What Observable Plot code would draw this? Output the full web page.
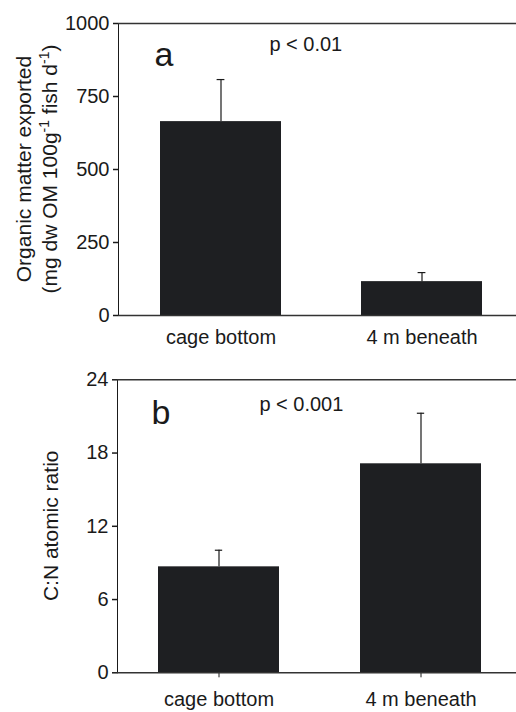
<!DOCTYPE html>
<html><head><meta charset="utf-8">
<script src="https://cdn.jsdelivr.net/npm/d3@7"></script>
<script src="https://cdn.jsdelivr.net/npm/@observablehq/plot@0.6"></script>
<style>
body{margin:0;background:#fff;}
#chart{width:516px;}
#chart svg{display:block;}
</style></head><body><div id="chart"></div>
<script>
const categories = ["cage bottom", "4 m beneath"];
const organicMatter = [664, 116];
const organicMatterSE = [144, 31];
const cnRatio = [8.68, 17.12];
const cnRatioSE = [1.36, 4.14];
const ticksA = [0, 250, 500, 750, 1000];
const ticksB = [0, 6, 12, 18, 24];
const panelLetters = ["a", "b"];
const pLabels = ["p < 0.01", "p < 0.001"];

const FONT = "'Liberation Sans', Arial, Helvetica, sans-serif";
const INK = "#1a1a1a";
const BAR = "#1e1f22";

function panel(cfg) {
  const data = categories.map((c, i) => ({cat: c, v: cfg.values[i], e: cfg.errs[i]}));
  const top = cfg.ticks[cfg.ticks.length - 1];
  const bw = (cfg.xRange[1] - cfg.xRange[0]) / 1.6 * 0.6;
  const inset = (bw - 8) / 2;
  const svg = Plot.plot({
    width: 516,
    height: cfg.height,
    marginTop: cfg.marginTop,
    marginBottom: cfg.marginBottom,
    marginLeft: cfg.marginLeft,
    marginRight: 0,
    style: {fontFamily: FONT, fontSize: "20px", color: INK, background: "#fff"},
    x: {domain: categories, range: cfg.xRange, paddingInner: 0.4, paddingOuter: 0,
        tickSize: cfg.xTickSize, tickPadding: cfg.xTickPadding, label: null},
    y: {domain: [0, top], ticks: cfg.ticks, tickFormat: d3.format("d"), tickSize: 5, tickPadding: 4, label: null, line: true},
    marks: [
      Plot.barY(data, {x: "cat", y: "v", fill: BAR}),
      Plot.ruleX(data, {x: "cat", y1: "v", y2: d => d.v + d.e, stroke: INK, strokeWidth: 1.2}),
      Plot.tickY(data, {x: "cat", y: d => d.v + d.e, stroke: INK, strokeWidth: 1.2, insetLeft: inset, insetRight: inset}),
      Plot.ruleY([0], {stroke: "#333", strokeWidth: 1.5}),
      Plot.ruleY([top], {stroke: "#333", strokeWidth: 1.5}),
      Plot.text([cfg.letter], {x: () => categories[0], y: () => cfg.letterY, text: d => d, dx: cfg.letterDx,
        textAnchor: "start", lineAnchor: "bottom", fontSize: 34, fill: INK}),
      Plot.text([cfg.pLabel], {x: () => categories[0], y: () => cfg.pY, text: d => d, dx: cfg.pDx,
        textAnchor: "start", lineAnchor: "bottom", fontSize: 20, fill: INK})
    ]
  });
  d3.select(svg).selectAll("[aria-label='y-axis'] path, [aria-label='y-axis tick'] path").attr("stroke-width", 1.5);
  // y-axis title
  const yc = (cfg.marginTop + cfg.height - cfg.marginBottom) / 2;
  const g = d3.select(svg).append("g").attr("font-family", FONT).attr("font-size", 21).attr("fill", INK).attr("text-anchor", "middle");
  cfg.titleLines.forEach((line, i) => {
    const t = g.append("text").attr("transform", `translate(${cfg.titleX[i]},${yc}) rotate(-90)`);
    let pending = 0;
    line.forEach(part => {
      if (part.sup) {
        t.append("tspan").attr("dy", -8 - pending).attr("font-size", 14).text(part.sup);
        pending = -8;
      } else {
        const s = t.append("tspan").text(part.t);
        if (pending) s.attr("dy", -pending);
        pending = 0;
      }
    });
  });
  return svg;
}

const root = document.getElementById("chart");
root.appendChild(panel({
  values: organicMatter, errs: organicMatterSE, ticks: ticksA,
  height: 352, marginTop: 23, marginBottom: 37, marginLeft: 118,
  xRange: [159, 482.2], xTickSize: 0, xTickPadding: 14,
  letter: panelLetters[0], letterY: 856, letterDx: -66.6,
  pLabel: pLabels[0], pY: 907, pDx: 48.4,
  titleX: [31, 57],
  titleLines: [
    [{t: "Organic matter exported"}],
    [{t: "(mg dw OM 100g"}, {sup: "-1"}, {t: " fish d"}, {sup: "-1"}, {t: ")"}]
  ]
}));
root.appendChild(panel({
  values: cnRatio, errs: cnRatioSE, ticks: ticksB,
  height: 360, marginTop: 27.3, marginBottom: 39.7, marginLeft: 117,
  xRange: [157.5, 482], xTickSize: 5, xTickPadding: 13.5,
  letter: panelLetters[1], letterY: 20.42, letterDx: -67.6,
  pLabel: pLabels[1], pY: 21.48, pDx: 40.4,
  titleX: [58],
  titleLines: [[{t: "C:N atomic ratio"}]]
}));
</script></body></html>
